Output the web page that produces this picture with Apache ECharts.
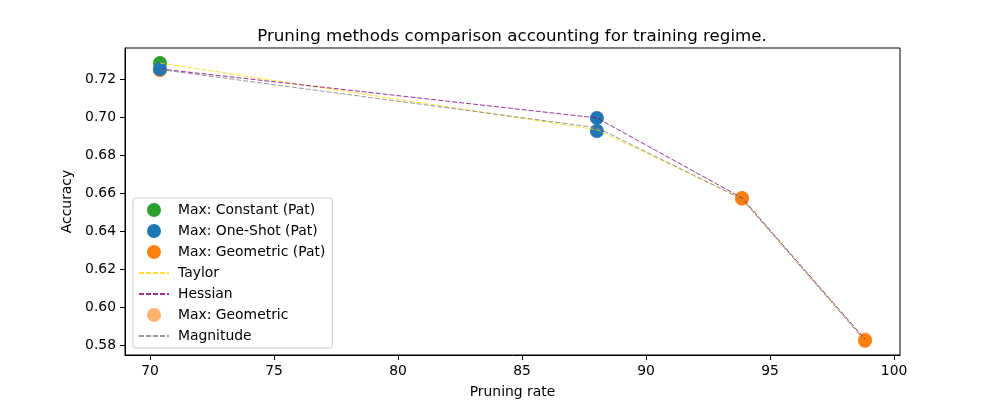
<!DOCTYPE html>
<html>
<head>
<meta charset="utf-8">
<script src="https://cdn.jsdelivr.net/npm/echarts@6/dist/echarts.min.js"></script>
<style>
  html, body { margin: 0; padding: 0; background: #fff; }
  #chart { width: 1000px; height: 400px; }
</style>
</head>
<body>
<div id="chart"></div>
<script>
// pruning rate positions (x) and accuracies (y)
const constantPatX = [70.40]
const constantPatY = [0.7284]
const oneShotPatX = [70.40, 88.02, 88.02]
const oneShotPatY = [0.7253, 0.6995, 0.6926]
const geometricPatX = [70.40, 93.87, 98.83]
const geometricPatY = [0.7247, 0.6574, 0.5822]
const maxGeometricX = [93.87, 98.83]
const maxGeometricY = [0.6568, 0.5830]

const lineX = [70.40, 88.02, 93.87, 98.83]
const taylorY = [0.7284, 0.6933, 0.6571, 0.5826]
const hessianY = [0.7253, 0.6995, 0.6574, 0.5830]
const magnitudeY = [0.7250, 0.6944, 0.6568, 0.5822]

const scatterNames = ['Max: Constant (Pat)', 'Max: One-Shot (Pat)', 'Max: Geometric (Pat)', 'Max: Geometric']
const lineNames = ['Taylor', 'Hessian', 'Magnitude']
const legendOrder = ['Max: Constant (Pat)', 'Max: One-Shot (Pat)', 'Max: Geometric (Pat)',
  'Taylor', 'Hessian', 'Max: Geometric', 'Magnitude']

const FONT = 'DejaVu Sans'

function pairs(xs, ys) {
  return xs.map((x, i) => [x, ys[i]])
}

function scatter(name, xs, ys, color, opacity) {
  return {
    name: name,
    type: 'scatter',
    symbolSize: 14,
    itemStyle: { color: color, opacity: opacity || 1 },
    data: pairs(xs, ys)
  }
}

function dashed(name, ys, color) {
  return {
    name: name,
    type: 'line',
    symbol: 'none',
    lineStyle: { color: color, width: 1, type: [5, 2] },
    itemStyle: { color: color },
    data: pairs(lineX, ys)
  }
}

// line entries in the legend: just the dashed stroke, no marker
const legendData = legendOrder.map(n => {
  if (lineNames.indexOf(n) >= 0) {
    return { name: n, itemStyle: { opacity: 0 } }
  }
  return { name: n }
})

const chart = echarts.init(document.getElementById('chart'))

chart.setOption({
  animation: false,
  backgroundColor: '#fff',
  title: {
    text: 'Pruning methods comparison accounting for training regime.',
    left: 507,
    top: 23,
    textAlign: 'center',
    textStyle: { fontFamily: FONT, fontSize: 16.7, fontWeight: 'normal', color: '#000' }
  },
  grid: {
    left: 125, right: 100, top: 48, bottom: 45,
    containLabel: false,
    outerBoundsMode: 'none',
    show: true, borderColor: '#000', borderWidth: 1
  },
  legend: {
    orient: 'vertical',
    left: 133,
    top: 198,
    padding: [5, 7, 5, 5],
    itemWidth: 30,
    itemHeight: 14,
    itemGap: 7,
    backgroundColor: 'rgba(255,255,255,0.8)',
    borderColor: '#cccccc',
    borderWidth: 1,
    borderRadius: 3,
    textStyle: { fontFamily: FONT, fontSize: 13.9, color: '#000', padding: [0, 0, 0, 4] },
    data: legendData
  },
  xAxis: {
    type: 'value',
    min: 68.99,
    max: 100.24,
    splitNumber: 6,
    name: 'Pruning rate',
    nameLocation: 'middle',
    nameGap: 30,
    nameTextStyle: { fontFamily: FONT, fontSize: 13.9, color: '#000' },
    axisLine: { show: true, lineStyle: { color: '#000' } },
    axisTick: { show: true, length: 5, lineStyle: { color: '#000' } },
    axisLabel: {
      margin: 9, fontFamily: FONT, fontSize: 13.9, color: '#000',
      showMinLabel: false, showMaxLabel: false
    },
    splitLine: { show: false }
  },
  yAxis: {
    type: 'value',
    min: 0.57474,
    max: 0.73632,
    splitNumber: 8,
    name: 'Accuracy',
    nameLocation: 'middle',
    nameGap: 46,
    nameTextStyle: { fontFamily: FONT, fontSize: 13.9, color: '#000' },
    axisLine: { show: true, lineStyle: { color: '#000' } },
    axisTick: { show: true, length: 5, lineStyle: { color: '#000' } },
    axisLabel: {
      margin: 9, fontFamily: FONT, fontSize: 13.9, color: '#000',
      showMinLabel: false, showMaxLabel: false,
      formatter: v => v.toFixed(2)
    },
    splitLine: { show: false }
  },
  series: [
    scatter(scatterNames[2], geometricPatX, geometricPatY, '#ff7f0e'),
    scatter(scatterNames[0], constantPatX, constantPatY, '#2ca02c'),
    scatter(scatterNames[1], oneShotPatX, oneShotPatY, '#1f77b4'),
    dashed(lineNames[0], taylorY, 'rgba(255,215,0,0.8)'),
    dashed(lineNames[1], hessianY, 'rgba(128,0,128,0.8)'),
    scatter(scatterNames[3], maxGeometricX, maxGeometricY, '#ff7f0e', 0.6),
    dashed(lineNames[2], magnitudeY, 'rgba(128,128,128,0.8)')
  ]
})
</script>
</body>
</html>
